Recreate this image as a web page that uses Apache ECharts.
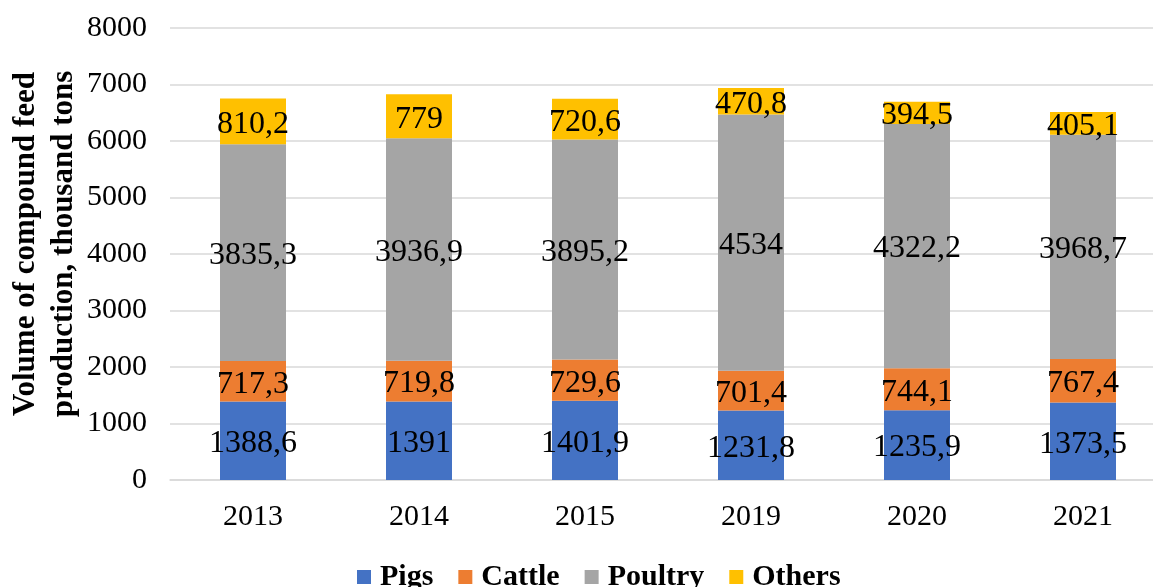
<!DOCTYPE html>
<html>
<head>
<meta charset="utf-8">
<script src="https://cdn.jsdelivr.net/npm/echarts@6/dist/echarts.min.js"></script>
<style>html,body{margin:0;padding:0;background:#fff;}#c{width:1153px;height:587px;}</style>
</head>
<body>
<div id="c"></div>
<script>
const categories = ['2013', '2014', '2015', '2019', '2020', '2021'];
const pigs = [1388.6, 1391, 1401.9, 1231.8, 1235.9, 1373.5];
const cattle = [717.3, 719.8, 729.6, 701.4, 744.1, 767.4];
const poultry = [3835.3, 3936.9, 3895.2, 4534, 4322.2, 3968.7];
const others = [810.2, 779, 720.6, 470.8, 394.5, 405.1];
const seriesNames = ['Pigs', 'Cattle', 'Poultry', 'Others'];
const yTicks = { min: 0, max: 8000, interval: 1000 };
const yTitle = 'Volume of compound feed\nproduction, thousand tons';

const FONT = '"Liberation Serif", "Times New Roman", serif';
const colors = ['#4472C4', '#ED7D31', '#A5A5A5', '#FFC000'];
const dataSets = [pigs, cattle, poultry, others];

const chart = echarts.init(document.getElementById('c'));
chart.setOption({
  animation: false,
  color: colors,
  grid: { left: 170, top: 28, width: 996, height: 452, containLabel: false, outerBoundsMode: 'none' },
  graphic: [{
    type: 'text',
    x: 45, y: 244,
    rotation: Math.PI / 2,
    style: {
      text: yTitle,
      fontFamily: FONT, fontSize: 31, fontWeight: 'bold', fill: '#000',
      lineHeight: 38,
      align: 'center', verticalAlign: 'middle'
    }
  }],
  legend: {
    left: 352, top: 557,
    itemWidth: 14, itemHeight: 14, itemGap: 25,
    icon: 'rect',
    textStyle: { fontFamily: FONT, fontSize: 30, fontWeight: 'bold', color: '#000', padding: [0, 0, 0, 4] },
    data: seriesNames
  },
  xAxis: {
    type: 'category',
    data: categories,
    axisLine: { lineStyle: { color: '#d9d9d9', width: 1.5 } },
    axisTick: { show: false },
    axisLabel: { fontFamily: FONT, fontSize: 30, color: '#000', margin: 22 }
  },
  yAxis: {
    type: 'value',
    min: yTicks.min, max: yTicks.max, interval: yTicks.interval,
    axisLine: { show: false },
    axisTick: { show: false },
    splitLine: { lineStyle: { color: '#d9d9d9', width: 1.5 } },
    axisLabel: { fontFamily: FONT, fontSize: 30, color: '#000', margin: 23, formatter: v => String(v) }
  },
  series: seriesNames.map((n, i) => ({
    name: n,
    type: 'bar',
    stack: 'total',
    barWidth: 66,
    data: dataSets[i],
    label: {
      show: true,
      position: 'inside',
      offset: [0, 3],
      fontFamily: FONT,
      fontSize: 32,
      color: '#000',
      formatter: p => String(p.value).replace('.', ',')
    }
  }))
});
</script>
</body>
</html>
